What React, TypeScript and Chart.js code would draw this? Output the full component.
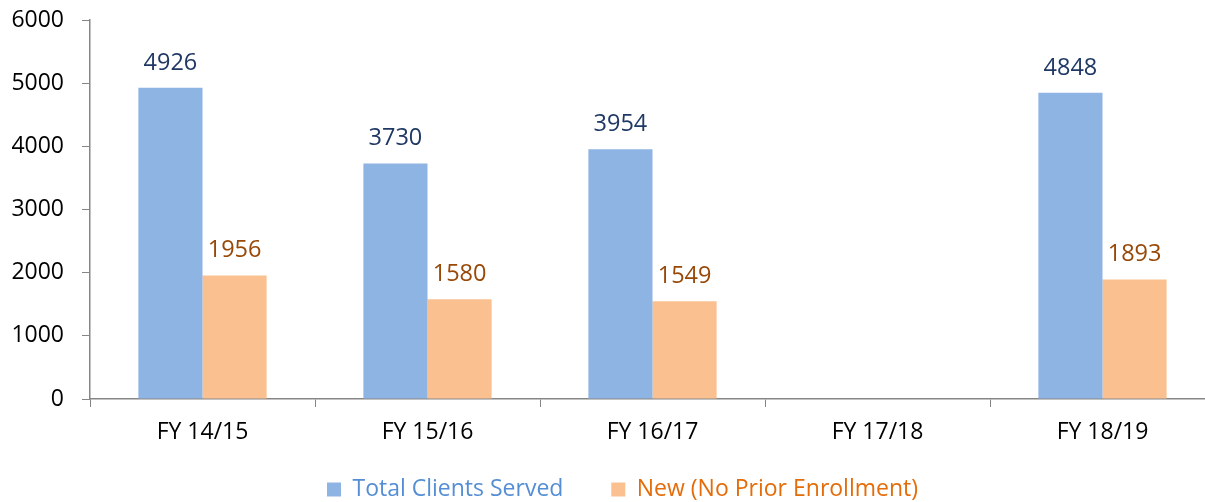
import React, { useEffect, useRef } from "react";
import { Chart, registerables } from "chart.js";

Chart.register(...registerables);

const categories = ["FY 14/15", "FY 15/16", "FY 16/17", "FY 17/18", "FY 18/19"];
const totalClients: (number | null)[] = [4926, 3730, 3954, null, 4848];
const newClients: (number | null)[] = [1956, 1580, 1549, null, 1893];
const seriesNames = ["Total Clients Served", "New (No Prior Enrollment)"];
const yTicks = [0, 1000, 2000, 3000, 4000, 5000, 6000];

const FONT = "'Open Sans', sans-serif";

const labelColors = ["#1F3864", "#984807"];

const barLabelPlugin = {
  id: "barLabels",
  afterDatasetsDraw(chart: any) {
    const ctx = chart.ctx;
    ctx.save();
    ctx.font = `23.5px ${FONT}`;
    ctx.textAlign = "center";
    ctx.textBaseline = "alphabetic";
    chart.data.datasets.forEach((ds: any, di: number) => {
      const meta = chart.getDatasetMeta(di);
      meta.data.forEach((bar: any, i: number) => {
        const v = ds.data[i];
        if (v === null || v === undefined) return;
        ctx.fillStyle = labelColors[di];
        ctx.fillText(String(v), bar.x, bar.y - 18);
      });
    });
    ctx.restore();
  },
};

export default function App() {
  const ref = useRef<HTMLCanvasElement | null>(null);
  useEffect(() => {
    if (!ref.current) return;
    const chart = new Chart(ref.current, {
      type: "bar",
      data: {
        labels: categories,
        datasets: [
          {
            label: seriesNames[0],
            data: totalClients,
            backgroundColor: "#8EB4E3",
            categoryPercentage: 0.57,
            barPercentage: 1.0,
          },
          {
            label: seriesNames[1],
            data: newClients,
            backgroundColor: "#FAC090",
            categoryPercentage: 0.57,
            barPercentage: 1.0,
          },
        ],
      },
      options: {
        animation: false,
        responsive: false,
        maintainAspectRatio: false,
        layout: { padding: { top: 20, right: 0, left: 30, bottom: -9 } },
        plugins: {
          legend: {
            position: "bottom",
            labels: {
              boxWidth: 14,
              boxHeight: 14,
              padding: 24,
              font: { family: FONT, size: 23 },
              generateLabels: (chart: any) =>
                chart.data.datasets.map((ds: any, i: number) => ({
                  text: i === 0 ? ds.label + "    " : ds.label,
                  fillStyle: ds.backgroundColor,
                  strokeStyle: ds.backgroundColor,
                  lineWidth: 0,
                  fontColor: i === 0 ? "#558ED5" : "#E46C0A",
                  datasetIndex: i,
                  hidden: false,
                })),
            },
          },
          tooltip: { enabled: false },
        },
        scales: {
          x: {
            offset: true,
            grid: {
              offset: true,
              drawOnChartArea: false,
              drawTicks: true,
              tickLength: 8,
              color: "#868686",
            },
            border: { color: "#868686", width: 1.5 },
            ticks: {
              color: "#000000",
              font: { family: FONT, size: 23 },
              padding: 12,
              maxRotation: 0,
            },
            afterFit: (scale: any) => {
              scale.height = 55;
              scale.paddingLeft = 0;
              scale.paddingRight = 0;
            },
          },
          y: {
            min: 0,
            max: 6000,
            afterBuildTicks: (scale: any) => {
              scale.ticks = yTicks.map((v) => ({ value: v }));
            },
            grid: {
              drawOnChartArea: false,
              drawTicks: true,
              tickLength: 8,
              color: "#868686",
            },
            border: { color: "#868686", width: 1.5 },
            ticks: {
              color: "#000000",
              font: { family: FONT, size: 23 },
              padding: 18,
              callback: (v: any) => String(v),
            },
            afterFit: (scale: any) => {
              scale.width = 60;
              scale.paddingTop = 0;
              scale.paddingBottom = 0;
              scale._computeLabelArea = () => undefined;
            },
          },
        },
      },
      plugins: [barLabelPlugin],
    });
    return () => chart.destroy();
  }, []);
  return (
    <div
      style={{
        position: "fixed",
        left: 0,
        top: 0,
        width: 1205,
        height: 502,
        overflow: "hidden",
        background: "#fff",
      }}
    >
      <canvas ref={ref} width={1215} height={502} style={{ display: "block" }} />
    </div>
  );
}
